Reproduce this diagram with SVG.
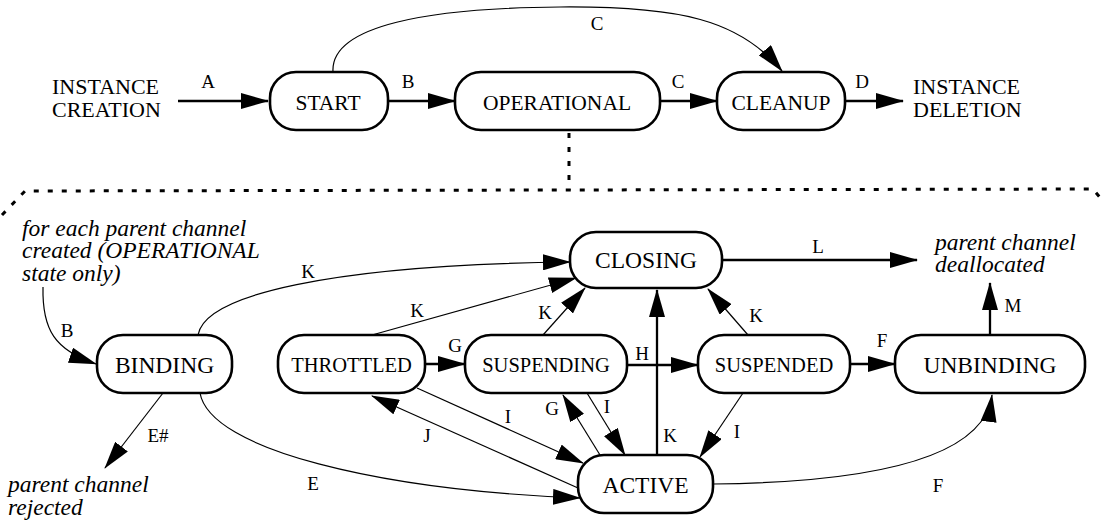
<svg xmlns="http://www.w3.org/2000/svg" width="1102" height="523" viewBox="0 0 1102 523" font-family="'Liberation Serif', 'Times New Roman', 'DejaVu Serif', serif">
<style>
text{font-family:'Liberation Serif','Times New Roman','DejaVu Serif',serif;fill:#000}
.node{fill:#fff;stroke:#000;stroke-width:2.6}
.nt{font-size:21.5px;text-anchor:middle}
.nb{font-size:23.5px;text-anchor:middle}
.ns{font-size:20.5px;text-anchor:middle}
.lbl{font-size:19px;text-anchor:middle}
.free{font-size:22px}
.it{font-size:23.5px;font-style:italic}
.thick{fill:none;stroke:#000;stroke-width:2.3;marker-end:url(#ah)}
.thin{fill:none;stroke:#000;stroke-width:1.2;marker-end:url(#ah)}
.dash{fill:none;stroke:#000;stroke-width:3;stroke-dasharray:5 9}
</style>
<defs>
<marker id="ah" markerUnits="userSpaceOnUse" markerWidth="28" markerHeight="16" viewBox="0 0 28 16" refX="27" refY="8" orient="auto">
<path d="M0,0 L28,8 L0,16 z" fill="#000"/>
</marker>
</defs>
<rect width="1102" height="523" fill="#fff"/>

<g id="connectors">
<path class="thick" d="M178,101 L268,101"/>
<path class="thick" d="M388,101 L455,101"/>
<path class="thick" d="M660,101 L717,101"/>
<path class="thick" d="M845,101 L903,101"/>
<path class="thin" d="M333,72 C330,25 430,8 560,7 C680,6 740,20 782,71"/>
<path class="dash" d="M569,133 L569,190"/>
<path class="dash" d="M2,215 L25,191 L1093,189 L1102,200"/>

<path class="thin" d="M43,287 C42,330 55,350 96,364"/>
<path class="thin" d="M198,335 C205,295 330,265 570,262"/>
<path class="thin" d="M372,335 L576,278"/>
<path class="thin" d="M543,335 L585,288"/>
<path class="thick" d="M657,455 L657,290"/>
<path class="thin" d="M748,335 L708,289"/>
<path class="thick" d="M722,260 L917,260"/>
<path class="thick" d="M990,335 L990,283"/>
<path class="thick" d="M425,364 L465,364"/>
<path class="thick" d="M627,365 L698,365"/>
<path class="thick" d="M850,364 L895,364"/>
<path class="thin" d="M417,388 L583,463"/>
<path class="thin" d="M578,488 L372,396"/>
<path class="thin" d="M600,455 L563,395"/>
<path class="thin" d="M587,393 L625,455"/>
<path class="thin" d="M743,393 L700,457"/>
<path class="thin" d="M200,393 C210,450 380,490 580,498"/>
<path class="thin" d="M163,393 L105,468"/>
<path class="thin" d="M713,484 C900,482 985,450 992,395"/>
</g>

<g id="edge-labels">
<text class="lbl" x="208" y="88">A</text>
<text class="lbl" x="408" y="88">B</text>
<text class="lbl" x="678" y="88">C</text>
<text class="lbl" x="862" y="88">D</text>
<text class="lbl" x="597" y="30">C</text>
<text class="lbl" x="67" y="337">B</text>
<text class="lbl" x="308" y="278">K</text>
<text class="lbl" x="417" y="317">K</text>
<text class="lbl" x="545" y="319">K</text>
<text class="lbl" x="670" y="442">K</text>
<text class="lbl" x="756" y="322">K</text>
<text class="lbl" x="818" y="253">L</text>
<text class="lbl" x="1013" y="312">M</text>
<text class="lbl" x="455" y="352">G</text>
<text class="lbl" x="642" y="360">H</text>
<text class="lbl" x="882" y="347">F</text>
<text class="lbl" x="508" y="423">I</text>
<text class="lbl" x="427" y="442">J</text>
<text class="lbl" x="552" y="415">G</text>
<text class="lbl" x="607" y="413">I</text>
<text class="lbl" x="737" y="438">I</text>
<text class="lbl" x="313" y="490">E</text>
<text class="lbl" x="158" y="442">E#</text>
<text class="lbl" x="938" y="492">F</text>
</g>

<g id="instance-creation">
<text class="free" x="52" y="94">INSTANCE</text>
<text class="free" x="52" y="117">CREATION</text>
</g>
<g id="instance-deletion">
<text class="free" x="913" y="94">INSTANCE</text>
<text class="free" x="913" y="117">DELETION</text>
</g>
<g id="start"><rect class="node" x="270" y="72" width="118" height="58" rx="26"/><text class="nt" x="328" y="110">START</text></g>
<g id="operational"><rect class="node" x="455" y="72" width="205" height="58" rx="26"/><text class="nt" x="557" y="110">OPERATIONAL</text></g>
<g id="cleanup"><rect class="node" x="717" y="72" width="128" height="58" rx="26"/><text class="nt" x="781" y="110">CLEANUP</text></g>

<g id="note-created">
<text class="it" x="22" y="236">for each parent channel</text>
<text class="it" x="22" y="258">created (OPERATIONAL</text>
<text class="it" x="22" y="281">state only)</text>
</g>
<g id="note-deallocated">
<text class="it" x="935" y="250">parent channel</text>
<text class="it" x="935" y="272">deallocated</text>
</g>
<g id="note-rejected">
<text class="it" x="8" y="492">parent channel</text>
<text class="it" x="8" y="515">rejected</text>
</g>

<g id="closing"><rect class="node" x="570" y="232" width="152" height="56" rx="26"/><text class="nb" x="646" y="268">CLOSING</text></g>
<g id="binding"><rect class="node" x="97" y="335" width="135" height="58" rx="26"/><text class="nb" x="164.5" y="373">BINDING</text></g>
<g id="throttled"><rect class="node" x="278" y="335" width="147" height="58" rx="26"/><text class="ns" x="351.5" y="372">THROTTLED</text></g>
<g id="suspending"><rect class="node" x="465" y="335" width="162" height="58" rx="26"/><text class="ns" x="546" y="372">SUSPENDING</text></g>
<g id="suspended"><rect class="node" x="698" y="335" width="152" height="58" rx="26"/><text class="ns" x="774" y="372">SUSPENDED</text></g>
<g id="unbinding"><rect class="node" x="895" y="335" width="190" height="58" rx="26"/><text class="nb" x="990" y="373">UNBINDING</text></g>
<g id="active"><rect class="node" x="578" y="455" width="135" height="58" rx="26"/><text class="nb" x="645.5" y="493">ACTIVE</text></g>
</svg>
